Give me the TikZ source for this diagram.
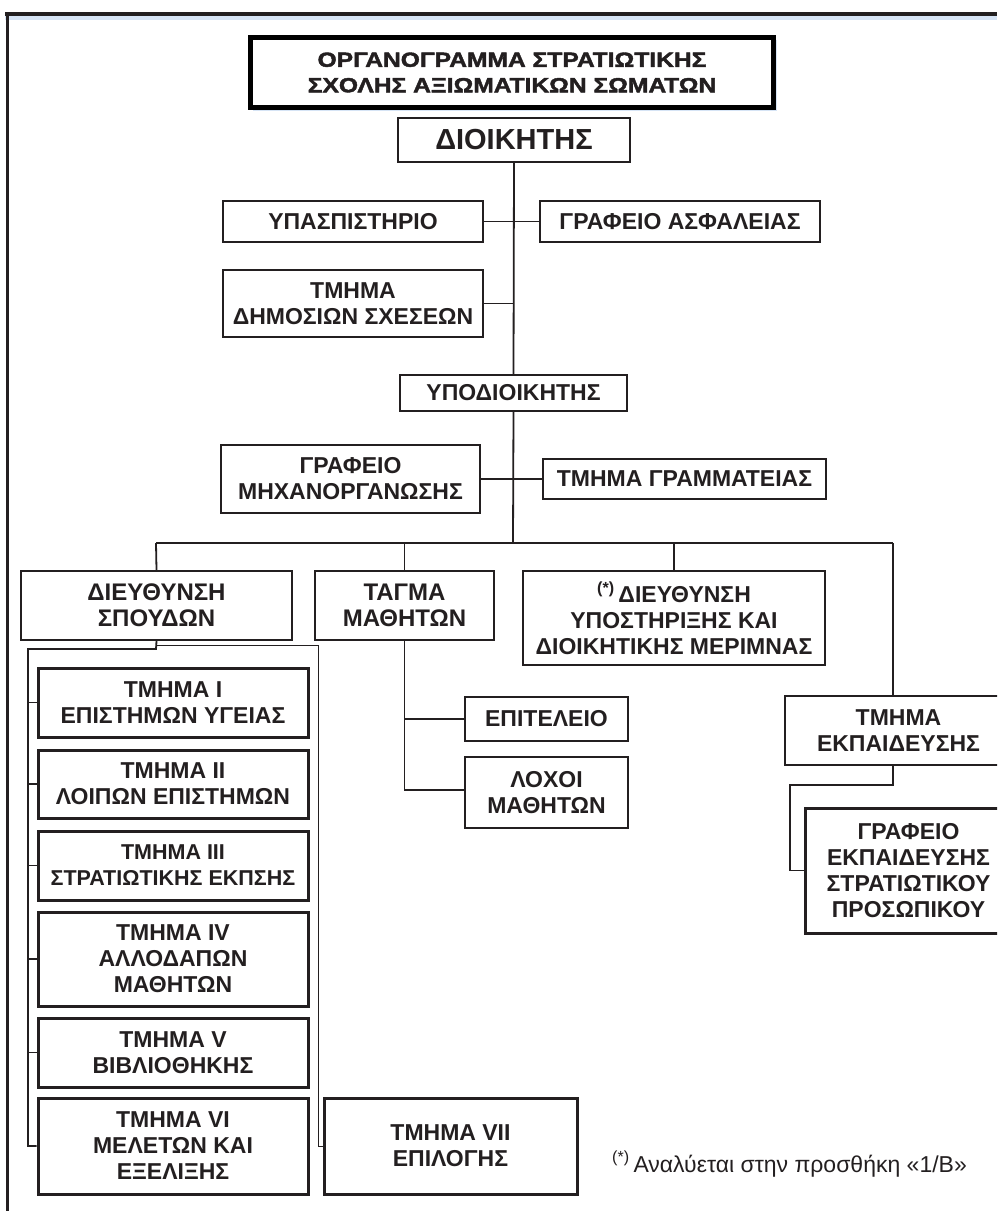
\documentclass[tikz,border=0pt]{standalone}
\usepackage{fontspec}
\setmainfont{Liberation Sans}
\newfontfamily\titlefont[FakeStretch=1.2,FakeBold=2]{Liberation Sans}
\definecolor{ink}{HTML}{231F20}
\definecolor{glow}{HTML}{D6E4F5}
\newcommand\bx[7]{\node[box,#6,minimum width={#4-#2},minimum height={#5-#3}] (#1) at ({(#2+#4)/2},{(#3+#5)/2}) {#7};}
\tikzset{
  box/.style={draw=ink,line width=2.2,fill=white,inner sep=0,align=center,text=ink,
    font=\bfseries\fontsize{23}{26}\selectfont},
  heavy/.style={line width=3},
  conn/.style={draw=ink,line width=1.8},
  thinconn/.style={draw=ink,line width=1}
}
\begin{document}
\begin{tikzpicture}[x=1pt,y=-1pt]
\useasboundingbox (0,0) rectangle (997,1211);
\clip (0,0) rectangle (997,1211);
\fill[white] (0,0) rectangle (997,1211);
% frame
\fill[glow] (5,15) rectangle (997,20);
\draw[ink,line width=4] (5,14) -- (997,14);
\draw[ink,line width=3] (7,12) -- (7,1211);
% title
\fill[glow] (253,40) rectangle (777,111);
\node[draw=black,line width=5,fill=white,minimum width=523,minimum height=70,inner sep=0] (titlebox) at (511.5,72) {};
\node[text=ink,align=center,font=\titlefont\bfseries\fontsize{20.5}{25.5}\selectfont] (title) at (512,72.5) {ΟΡΓΑΝΟΓΡΑΜΜΑ ΣΤΡΑΤΙΩΤΙΚΗΣ\\ΣΧΟΛΗΣ ΑΞΙΩΜΑΤΙΚΩΝ ΣΩΜΑΤΩΝ};
% boxes
\bx{dioik}{398}{118}{630}{162}{font=\bfseries\fontsize{29}{32}\selectfont}{ΔΙΟΙΚΗΤΗΣ}
\bx{ypasp}{223}{201}{483}{242}{}{ΥΠΑΣΠΙΣΤΗΡΙΟ}
\bx{asfal}{540}{201}{820}{242}{}{ΓΡΑΦΕΙΟ ΑΣΦΑΛΕΙΑΣ}
\bx{dimos}{223}{270}{483}{337}{}{ΤΜΗΜΑ\\ΔΗΜΟΣΙΩΝ ΣΧΕΣΕΩΝ}
\bx{ypodi}{400}{375}{627}{411}{}{ΥΠΟΔΙΟΙΚΗΤΗΣ}
\bx{mixan}{221}{445}{480}{513}{}{ΓΡΑΦΕΙΟ\\ΜΗΧΑΝΟΡΓΑΝΩΣΗΣ}
\bx{gramm}{543}{459}{826}{499}{}{ΤΜΗΜΑ ΓΡΑΜΜΑΤΕΙΑΣ}
\bx{spoud}{21}{571}{292}{640}{font=\bfseries\fontsize{24}{26}\selectfont}{ΔΙΕΥΘΥΝΣΗ\\ΣΠΟΥΔΩΝ}
\bx{tagma}{315}{571}{494}{640}{font=\bfseries\fontsize{24}{26}\selectfont}{ΤΑΓΜΑ\\ΜΑΘΗΤΩΝ}
\bx{ypost}{523}{571}{825}{665}{}{\textsuperscript{(*)}\,ΔΙΕΥΘΥΝΣΗ\\ΥΠΟΣΤΗΡΙΞΗΣ ΚΑΙ\\ΔΙΟΙΚΗΤΙΚΗΣ ΜΕΡΙΜΝΑΣ}
\bx{ekpai}{785}{696}{1012}{765}{}{ΤΜΗΜΑ\\ΕΚΠΑΙΔΕΥΣΗΣ}
\bx{epit}{465}{697}{628}{741}{}{ΕΠΙΤΕΛΕΙΟ}
\bx{lochoi}{465}{757}{628}{828}{}{ΛΟΧΟΙ\\ΜΑΘΗΤΩΝ}
\bx{grafekp}{805}{808}{1012}{933}{heavy}{ΓΡΑΦΕΙΟ\\ΕΚΠΑΙΔΕΥΣΗΣ\\ΣΤΡΑΤΙΩΤΙΚΟΥ\\ΠΡΟΣΩΠΙΚΟΥ}
\bx{tI}{38}{668}{308}{737}{heavy}{ΤΜΗΜΑ Ι\\ΕΠΙΣΤΗΜΩΝ ΥΓΕΙΑΣ}
\bx{tII}{38}{750}{308}{818}{heavy}{ΤΜΗΜΑ ΙΙ\\ΛΟΙΠΩΝ ΕΠΙΣΤΗΜΩΝ}
\bx{tIII}{38}{831}{308}{900}{heavy,font=\bfseries\fontsize{21.5}{26}\selectfont}{ΤΜΗΜΑ ΙΙΙ\\ΣΤΡΑΤΙΩΤΙΚΗΣ ΕΚΠΣΗΣ}
\bx{tIV}{38}{912}{308}{1006}{heavy}{ΤΜΗΜΑ IV\\ΑΛΛΟΔΑΠΩΝ\\ΜΑΘΗΤΩΝ}
\bx{tV}{38}{1018}{308}{1087}{heavy}{ΤΜΗΜΑ V\\ΒΙΒΛΙΟΘΗΚΗΣ}
\bx{tVI}{38}{1098}{308}{1194}{heavy}{ΤΜΗΜΑ VI\\ΜΕΛΕΤΩΝ ΚΑΙ\\ΕΞΕΛΙΞΗΣ}
\bx{tVII}{324}{1098}{577}{1194}{heavy}{ΤΜΗΜΑ VII\\ΕΠΙΛΟΓΗΣ}
% footnote
\node[anchor=base west,text=ink,font=\fontsize{23}{26}\selectfont,inner sep=0] (note) at (612,1172) {\textsuperscript{(*)}\,Αναλύεται στην προσθήκη «1/Β»};
% connector coordinates
\coordinate (bus) at (513,543);
\coordinate (busL) at (156,543);
\coordinate (busR) at (893,543);
\coordinate (ekpTop) at (893,696);
\coordinate (tagBot) at (404.5,790);
\coordinate (spA) at (156,649);
\coordinate (spB) at (28,649);
\coordinate (spThinA) at (156,645);
\coordinate (spThinB) at (318,645);
\coordinate (ekA) at (893,785);
\coordinate (ekB) at (790,785);
% connectors
\draw[conn] (dioik.south) -- (ypodi.north);
\draw[conn] (ypasp.east) -- (asfal.west);
\draw[conn] (dimos.east) -- (dimos.east -| dioik.south);
\draw[conn] (ypodi.south) -- (bus);
\draw[conn] (mixan.east |- gramm.west) -- (gramm.west);
\draw[conn] (busL) -- (busR);
\draw[conn] (busL) -- (spoud.north);
\draw[conn] (tagma.north |- bus) -- (tagma.north);
\draw[conn] (ypost.north |- bus) -- (ypost.north);
\draw[conn] (busR) -- (ekpTop);
\draw[conn] (tagma.south) -- (tagBot) -- (lochoi.west |- tagBot);
\draw[conn] (tagma.south |- epit.west) -- (epit.west);
\draw[conn] (spoud.south) -- (spA) -- (spB) -- (spB |- tVI.west) -- (tVI.west);
\foreach \t in {tI,tII,tIII,tIV,tV}{\draw[conn] (spB |- \t.west) -- (\t.west);}
\draw[thinconn] (spThinA) -- (spThinB) -- (spThinB |- tVII.west) -- (tVII.west);
\draw[conn] (ekpTop |- ekpai.south) -- (ekA) -- (ekB) -- (ekB |- grafekp.west) -- (grafekp.west);
\end{tikzpicture}
\end{document}
